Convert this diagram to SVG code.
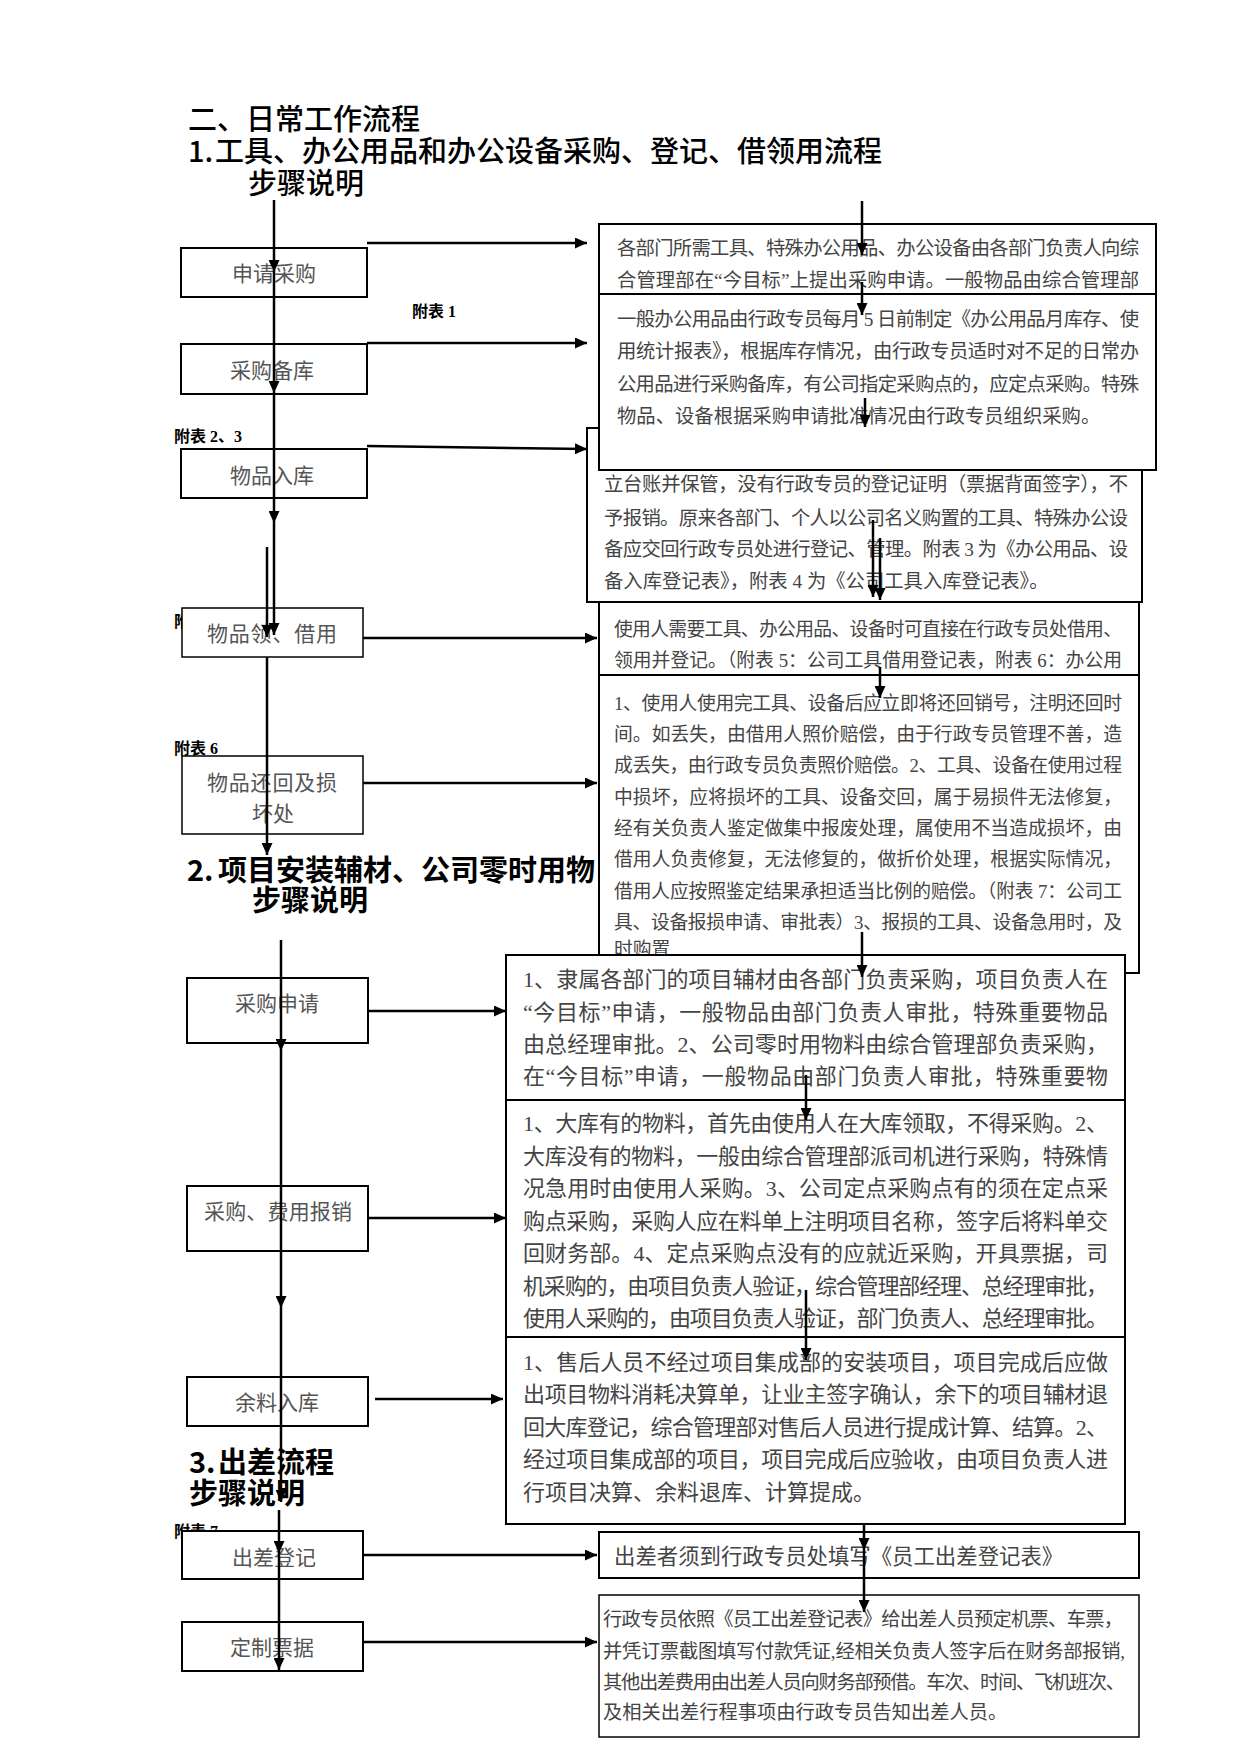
<svg xmlns="http://www.w3.org/2000/svg" width="1241" height="1754" viewBox="0 0 1241 1754">
<style>
.box{fill:#fff;stroke:#000;stroke-width:2}
.thin{stroke-width:1.5}
.lbl{font-family:"Noto Sans CJK SC",sans-serif;font-size:21px;fill:#555}
.body{font-family:"Liberation Serif","Noto Sans CJK SC",serif;fill:#444}
.h{font-family:"Noto Sans CJK SC",sans-serif;font-size:29px;fill:#000;font-weight:500}
.hb{font-weight:bold}
.note{font-family:"Liberation Serif","Noto Sans CJK SC",serif;font-size:16px;font-weight:bold;fill:#000}
.conn line{stroke:#000;stroke-width:2.5;fill:none}
</style>
<defs>
<marker id="ah" markerUnits="userSpaceOnUse" markerWidth="12" markerHeight="11" viewBox="0 0 12 11" refX="12" refY="5.5" orient="auto"><path d="M0,0 L12,5.5 L0,11 z" fill="#000"/></marker>
</defs>
<rect width="1241" height="1754" fill="#fff"/>

<g id="headings">
<text class="h" x="188" y="130">二、日常工作流程</text>
<text class="h" x="188" y="162">1.</text>
<text class="h" x="215" y="162">工具、办公用品和办公设备采购、登记、借领用流程</text>
<text class="h" x="248" y="194">步骤说明</text>
<text class="h hb" x="187" y="881">2.</text>
<text class="h hb" x="218" y="881">项目安装辅材、公司零时用物</text>
<text class="h hb" x="252" y="911">步骤说明</text>
<text class="h hb" x="189" y="1473">3.</text>
<text class="h hb" x="218" y="1473">出差流程</text>
<text class="h hb" x="189" y="1504">步骤说明</text>
</g>

<g id="notes">
<text class="note" x="412" y="317">附表 1</text>
<text class="note" x="174" y="442">附表 2、3</text>
<text class="note" x="174" y="627">附</text>
<text class="note" x="174" y="754">附表 6</text>
<text class="note" x="174" y="1537">附表 7</text>
</g>

<g id="n-apply">
<rect class="box" x="181" y="248" width="186" height="49"/>
<text class="lbl" x="232" y="281">申请采购</text>
</g>
<g id="n-stock">
<rect class="box" x="181" y="344" width="186" height="50"/>
<text class="lbl" x="230" y="378">采购备库</text>
</g>
<g id="n-instore">
<rect class="box" x="181" y="449" width="186" height="49"/>
<text class="lbl" x="230" y="483">物品入库</text>
</g>
<g id="n-borrow">
<rect class="box thin" x="182" y="608" width="181" height="49"/>
<text class="lbl" x="207" y="641" textLength="130">物品领、借用</text>
</g>
<g id="n-return">
<rect class="box thin" x="182" y="756" width="181" height="78"/>
<text class="lbl" x="207" y="790" textLength="130">物品还回及损</text>
<text class="lbl" x="252" y="821">坏处</text>
</g>

<g id="d-apply">
<rect class="box" x="599" y="224" width="557" height="70"/>
<text class="body" font-size="19.33" x="617" y="255" textLength="522">各部门所需工具、特殊办公用品、办公设备由各部门负责人向综</text>
<text class="body" font-size="19.33" x="617" y="287" textLength="522">合管理部在“今目标”上提出采购申请。一般物品由综合管理部</text>
</g>
<g id="d-instore">
<rect class="box" x="587" y="428" width="555" height="174"/>
<text class="body" font-size="19.33" x="604" y="491" textLength="524">立台账并保管，没有行政专员的登记证明（票据背面签字），不</text>
<text class="body" font-size="19.33" x="604" y="525" textLength="524">予报销。原来各部门、个人以公司名义购置的工具、特殊办公设</text>
<text class="body" font-size="19.33" x="604" y="556" textLength="524">备应交回行政专员处进行登记、管理。附表 3 为《办公用品、设</text>
<text class="body" font-size="19.33" x="604" y="588">备入库登记表》，附表 4 为《公司工具入库登记表》。</text>
</g>
<g id="d-stock">
<rect class="box" x="599" y="294" width="557" height="176"/>
<text class="body" font-size="19.33" x="617" y="326" textLength="522">一般办公用品由行政专员每月 5 日前制定《办公用品月库存、使</text>
<text class="body" font-size="19.33" x="617" y="358" textLength="522">用统计报表》，根据库存情况，由行政专员适时对不足的日常办</text>
<text class="body" font-size="19.33" x="617" y="391" textLength="522">公用品进行采购备库，有公司指定采购点的，应定点采购。特殊</text>
<text class="body" font-size="19.33" x="617" y="423">物品、设备根据采购申请批准情况由行政专员组织采购。</text>
</g>
<g id="d-borrow">
<rect class="box" x="599" y="602" width="540" height="73"/>
<text class="body" font-size="18.8" x="614" y="636" textLength="508">使用人需要工具、办公用品、设备时可直接在行政专员处借用、</text>
<text class="body" font-size="18.8" x="614" y="667" textLength="508">领用并登记。（附表 5：公司工具借用登记表，附表 6：办公用</text>
</g>
<g id="d-return">
<rect class="box" x="599" y="675" width="540" height="298"/>
<text class="body" font-size="18.8" x="614" y="710" textLength="508">1、使用人使用完工具、设备后应立即将还回销号，注明还回时</text>
<text class="body" font-size="18.8" x="614" y="741" textLength="508">间。如丢失，由借用人照价赔偿，由于行政专员管理不善，造</text>
<text class="body" font-size="18.8" x="614" y="772" textLength="508">成丢失，由行政专员负责照价赔偿。2、工具、设备在使用过程</text>
<text class="body" font-size="18.8" x="614" y="804" textLength="508">中损坏，应将损坏的工具、设备交回，属于易损件无法修复，</text>
<text class="body" font-size="18.8" x="614" y="835" textLength="508">经有关负责人鉴定做集中报废处理，属使用不当造成损坏，由</text>
<text class="body" font-size="18.8" x="614" y="866" textLength="508">借用人负责修复，无法修复的，做折价处理，根据实际情况，</text>
<text class="body" font-size="18.8" x="614" y="898" textLength="508">借用人应按照鉴定结果承担适当比例的赔偿。（附表 7：公司工</text>
<text class="body" font-size="18.8" x="614" y="929" textLength="508">具、设备报损申请、审批表）3、报损的工具、设备急用时，及</text>
<text class="body" font-size="18.8" x="614" y="956">时购置</text>
</g>

<g id="n-papply">
<rect class="box" x="187" y="978" width="181" height="65"/>
<text class="lbl" x="235" y="1011">采购申请</text>
</g>
<g id="n-reimb">
<rect class="box" x="187" y="1186" width="181" height="65"/>
<text class="lbl" x="204" y="1219" textLength="148">采购、费用报销</text>
</g>
<g id="n-rest">
<rect class="box" x="187" y="1377" width="181" height="49"/>
<text class="lbl" x="235" y="1410">余料入库</text>
</g>

<g id="d-papply">
<rect class="box" x="506" y="955" width="619" height="145"/>
<text class="body" font-size="22" x="523" y="987" textLength="585">1、隶属各部门的项目辅材由各部门负责采购，项目负责人在</text>
<text class="body" font-size="22" x="523" y="1020" textLength="585">“今目标”申请，一般物品由部门负责人审批，特殊重要物品</text>
<text class="body" font-size="22" x="523" y="1052" textLength="585">由总经理审批。2、公司零时用物料由综合管理部负责采购，</text>
<text class="body" font-size="22" x="523" y="1084" textLength="585">在“今目标”申请，一般物品由部门负责人审批，特殊重要物</text>
</g>
<g id="d-reimb">
<rect class="box" x="506" y="1100" width="619" height="237"/>
<text class="body" font-size="22" x="523" y="1131" textLength="585">1、大库有的物料，首先由使用人在大库领取，不得采购。2、</text>
<text class="body" font-size="22" x="523" y="1164" textLength="585">大库没有的物料，一般由综合管理部派司机进行采购，特殊情</text>
<text class="body" font-size="22" x="523" y="1196" textLength="585">况急用时由使用人采购。3、公司定点采购点有的须在定点采</text>
<text class="body" font-size="22" x="523" y="1229" textLength="585">购点采购，采购人应在料单上注明项目名称，签字后将料单交</text>
<text class="body" font-size="22" x="523" y="1261" textLength="585">回财务部。4、定点采购点没有的应就近采购，开具票据，司</text>
<text class="body" font-size="22" x="523" y="1294" textLength="585">机采购的，由项目负责人验证，综合管理部经理、总经理审批，</text>
<text class="body" font-size="22" x="523" y="1326" textLength="585">使用人采购的，由项目负责人验证，部门负责人、总经理审批。</text>
</g>
<g id="d-rest">
<rect class="box" x="506" y="1337" width="619" height="187"/>
<text class="body" font-size="22" x="523" y="1370" textLength="585">1、售后人员不经过项目集成部的安装项目，项目完成后应做</text>
<text class="body" font-size="22" x="523" y="1402" textLength="585">出项目物料消耗决算单，让业主签字确认，余下的项目辅材退</text>
<text class="body" font-size="22" x="523" y="1435" textLength="585">回大库登记，综合管理部对售后人员进行提成计算、结算。2、</text>
<text class="body" font-size="22" x="523" y="1467" textLength="585">经过项目集成部的项目，项目完成后应验收，由项目负责人进</text>
<text class="body" font-size="22" x="523" y="1500">行项目决算、余料退库、计算提成。</text>
</g>

<g id="n-trip">
<rect class="box" x="182" y="1531" width="181" height="48"/>
<text class="lbl" x="232" y="1565">出差登记</text>
</g>
<g id="n-ticket">
<rect class="box" x="182" y="1622" width="181" height="49"/>
<text class="lbl" x="230" y="1655">定制票据</text>
</g>
<g id="d-trip">
<rect class="box" x="599" y="1532" width="540" height="46" stroke-width="2.5"/>
<text class="body" font-size="21.4" x="614" y="1564">出差者须到行政专员处填写《员工出差登记表》</text>
</g>
<g id="d-ticket">
<rect class="box thin" x="599" y="1595" width="540" height="142"/>
<text class="body" font-size="19.26" x="603" y="1626" textLength="520">行政专员依照《员工出差登记表》给出差人员预定机票、车票，</text>
<text class="body" font-size="19.26" x="603" y="1658" textLength="522">并凭订票截图填写付款凭证,经相关负责人签字后在财务部报销,</text>
<text class="body" font-size="19.26" x="603" y="1689" textLength="522">其他出差费用由出差人员向财务部预借。车次、时间、飞机班次、</text>
<text class="body" font-size="19.26" x="603" y="1719">及相关出差行程事项由行政专员告知出差人员。</text>
</g>

<g id="connectors" class="conn">
<line x1="274" y1="200" x2="274" y2="272" marker-end="url(#ah)"/>
<line x1="274" y1="272" x2="274" y2="393" marker-end="url(#ah)"/>
<line x1="274" y1="393" x2="274" y2="523" marker-end="url(#ah)"/>
<line x1="274" y1="523" x2="274" y2="635" marker-end="url(#ah)"/>
<line x1="267" y1="547" x2="267" y2="637" marker-end="url(#ah)"/>
<line x1="267" y1="657" x2="267" y2="855" marker-end="url(#ah)"/>
<line x1="367" y1="243" x2="587" y2="243" marker-end="url(#ah)"/>
<line x1="367" y1="343" x2="587" y2="343" marker-end="url(#ah)"/>
<line x1="367" y1="446" x2="587" y2="449" marker-end="url(#ah)"/>
<line x1="363" y1="638" x2="597" y2="638" marker-end="url(#ah)"/>
<line x1="363" y1="783" x2="597" y2="783" marker-end="url(#ah)"/>
<line x1="862" y1="201" x2="862" y2="255" marker-end="url(#ah)"/>
<line x1="862" y1="282" x2="862" y2="315" marker-end="url(#ah)"/>
<line x1="865" y1="398" x2="865" y2="427" marker-end="url(#ah)"/>
<line x1="873" y1="520" x2="873" y2="597" marker-end="url(#ah)"/>
<line x1="880" y1="538" x2="880" y2="600" marker-end="url(#ah)"/>
<line x1="880" y1="667" x2="880" y2="698" marker-end="url(#ah)"/>
<line x1="862" y1="932" x2="862" y2="977" marker-end="url(#ah)"/>
<line x1="806" y1="1075" x2="806" y2="1120" marker-end="url(#ah)"/>
<line x1="806" y1="1290" x2="806" y2="1360" marker-end="url(#ah)"/>
<line x1="864" y1="1523" x2="864" y2="1550" marker-end="url(#ah)"/>
<line x1="864" y1="1550" x2="864" y2="1612" marker-end="url(#ah)"/>
<line x1="281" y1="940" x2="281" y2="1051" marker-end="url(#ah)"/>
<line x1="281" y1="1051" x2="281" y2="1308" marker-end="url(#ah)"/>
<line x1="281" y1="1308" x2="281" y2="1502" marker-end="url(#ah)"/>
<line x1="368" y1="1011" x2="506" y2="1011" marker-end="url(#ah)"/>
<line x1="368" y1="1218" x2="506" y2="1218" marker-end="url(#ah)"/>
<line x1="375" y1="1399" x2="503" y2="1399" marker-end="url(#ah)"/>
<line x1="279" y1="1510" x2="279" y2="1553" marker-end="url(#ah)"/>
<line x1="279" y1="1553" x2="279" y2="1670" marker-end="url(#ah)"/>
<line x1="363" y1="1555" x2="597" y2="1555" marker-end="url(#ah)"/>
<line x1="363" y1="1642" x2="597" y2="1642" marker-end="url(#ah)"/>
</g>
</svg>
